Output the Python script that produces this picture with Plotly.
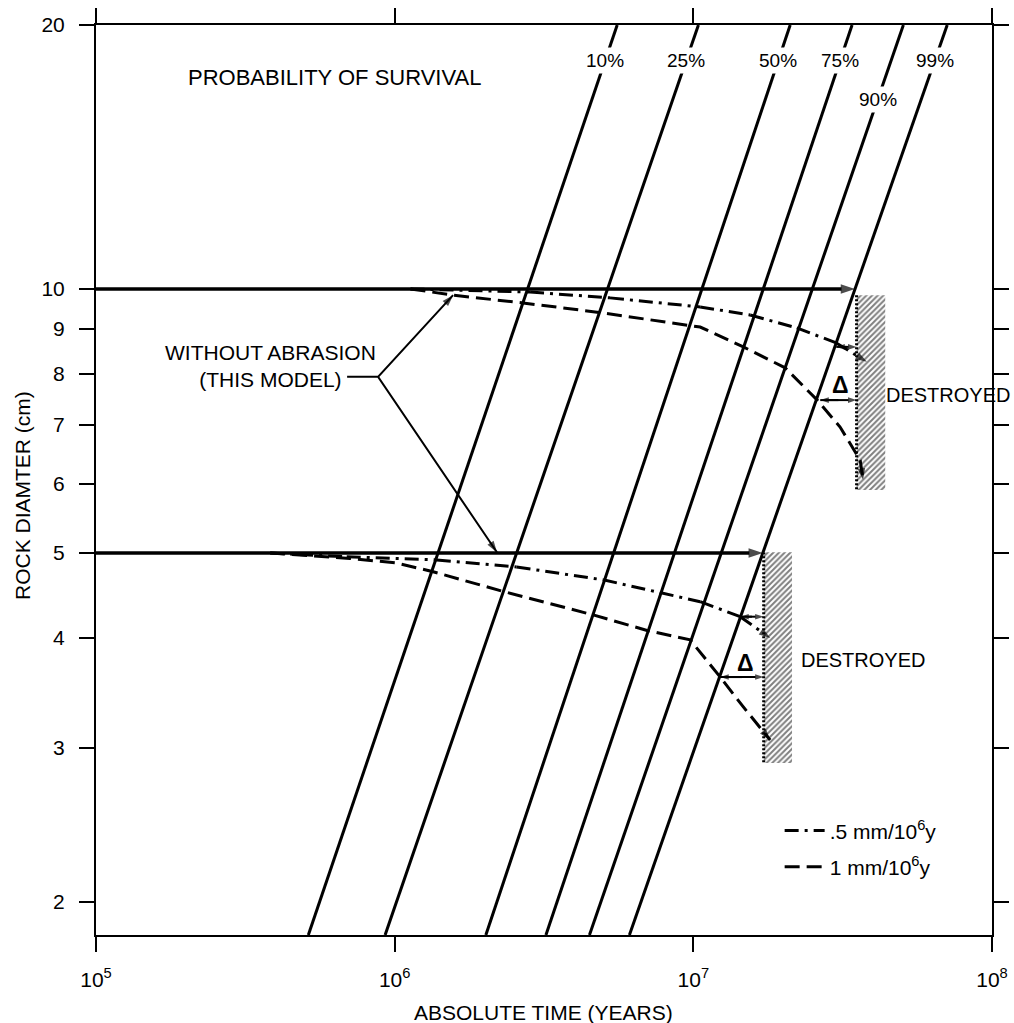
import numpy as np
import plotly.graph_objects as go

FONT = "Liberation Sans, Arial, sans-serif"

# ---------------- data ----------------
time_range = [1e5, 1e8]
diam_range = [1.834, 20]
x_tick_values = [1e5, 1e6, 1e7, 1e8]
x_tick_labels = ["10<sup>5</sup>", "10<sup>6</sup>", "10<sup>7</sup>", "10<sup>8</sup>"]
y_tick_values = [2, 3, 4, 5, 6, 7, 8, 9, 10, 20]
y_tick_labels = ["2", "3", "4", "5", "6", "7", "8", "9", "10", "20"]

# probability-of-survival lines (straight on log-log), time at the two diameter ends
survival_labels = ["10%", "25%", "50%", "75%", "90%", "99%"]
survival_diam_ends = [1.834, 20]
survival_time_low = [5.14e5, 9.29e5, 2.02e6, 3.21e6, 4.49e6, 6.11e6]
survival_time_high = [5.56e6, 1.04e7, 2.11e7, 3.40e7, 5.05e7, 7.08e7]
survival_label_diam = [18.24, 18.24, 18.24, 18.24, 16.43, 18.24]

# without abrasion (this model)
initial_diam = [10, 5]
no_abrasion_start_time = 1e5

# abrasion 0.5 mm/1e6 y (dash-dot)
upper_half_time = [1.13e6, 2.84e6, 5.26e6, 1.054e7, 1.55e7, 2.22e7, 3.01e7, 3.81e7]
upper_half_diam = [10.0, 9.92, 9.77, 9.54, 9.34, 9.03, 8.68, 8.26]
lower_half_time = [3.83e5, 6.91e5, 1.384e6, 2.56e6, 4.99e6, 7.74e6, 1.054e7, 1.435e7, 1.808e7]
lower_half_diam = [5.00, 4.95, 4.91, 4.82, 4.66, 4.51, 4.40, 4.23, 4.00]

# abrasion 1 mm/1e6 y (dashed)
upper_one_time = [1.13e6, 1.57e6, 2.69e6, 4.76e6, 1.054e7, 1.47e7, 2.03e7, 2.60e7, 3.10e7, 3.62e7, 3.70e7]
upper_one_diam = [10.0, 9.84, 9.64, 9.41, 9.05, 8.59, 8.13, 7.47, 6.96, 6.38, 6.06]
lower_one_time = [3.83e5, 7.09e5, 1.016e6, 1.345e6, 2.31e6, 4.62e6, 7.00e6, 9.76e6, 1.23e7, 1.468e7, 1.808e7]
lower_one_diam = [5.00, 4.93, 4.87, 4.76, 4.52, 4.25, 4.08, 3.98, 3.61, 3.34, 3.06]

# destroyed zones
destroyed_time_left = [3.52e7, 1.72e7]
destroyed_time_right = [4.39e7, 2.14e7]
destroyed_diam_top = [9.84, 5.01]
destroyed_diam_bottom = [5.90, 2.88]

# delta arrows (from 99% line to destroyed boundary)
delta_diam = [7.47, 3.61]
delta_time_left = [2.66e7, 1.23e7]
small_delta_diam = [8.59, 4.23]
small_delta_time_left = [3.01e7, 1.435e7]
delta_label_time = [3.10e7, 1.49e7]
delta_label_diam = [7.77, 3.75]

# label positions (data coords)
destroyed_label_time = [7.13e7, 3.70e7]
destroyed_label_diam = [7.57, 3.78]
note_time, note_diam = 3.85e5, 8.17
pointer_joint = (8.80e5, 7.94)
pointer_stub_time = 6.93e5
pointer_tips = [(1.569e6, 9.84), (2.20e6, 5.01)]

L = np.log10


def time_on_line(i, d):
    lt0, lt1 = L(survival_time_low[i]), L(survival_time_high[i])
    ld0, ld1 = L(survival_diam_ends[0]), L(survival_diam_ends[1])
    return 10 ** (lt0 + (L(d) - ld0) / (ld1 - ld0) * (lt1 - lt0))


fig = go.Figure()
NOHOVER = dict(hoverinfo="skip", showlegend=False)


def arrow_trace(xs, ys, head_flags, width=2, size=11, dash="solid"):
    fig.add_trace(go.Scatter(
        x=xs, y=ys, mode="lines+markers", line=dict(color="black", width=width, dash=dash),
        marker=dict(symbol=["arrow" if h else "circle" for h in head_flags],
                    size=[size if h else 0 for h in head_flags], color="black",
                    angleref="previous", line=dict(width=0)),
        **NOHOVER))


# survival lines
for i in range(len(survival_labels)):
    fig.add_trace(go.Scatter(x=[survival_time_low[i], survival_time_high[i]], y=survival_diam_ends,
                             mode="lines", line=dict(color="black", width=3), **NOHOVER))

# destroyed hatched zones
for k in range(2):
    tl, tr = destroyed_time_left[k], destroyed_time_right[k]
    dt, db = destroyed_diam_top[k], destroyed_diam_bottom[k]
    fig.add_trace(go.Scatter(x=[tl, tr, tr, tl, tl], y=[dt, dt, db, db, dt], mode="lines",
                             fill="toself", fillcolor="rgba(0,0,0,0)",
                             fillpattern=dict(shape="/", fgcolor="black", bgcolor="white", size=4, solidity=0.5),
                             line=dict(width=0, color="rgba(0,0,0,0)"), **NOHOVER))
    fig.add_trace(go.Scatter(x=[tl, tl], y=[dt, db], mode="lines",
                             line=dict(color="black", width=3, dash="2px,2px"), **NOHOVER))

# no-abrasion arrows
for d in initial_diam:
    arrow_trace([no_abrasion_start_time, time_on_line(5, d)], [d, d], [False, True], width=3.5, size=15)

DASHDOT = "14px,6px,3px,6px"
DASH = "15px,7px"
curves = [(upper_half_time, upper_half_diam, DASHDOT), (lower_half_time, lower_half_diam, DASHDOT),
          (upper_one_time, upper_one_diam, DASH), (lower_one_time, lower_one_diam, DASH)]
for t, d, dash in curves:
    n = len(t)
    arrow_trace(t, d, [False] * (n - 1) + [True], width=3, size=12, dash=dash)

# delta double arrows (mid -> left -> mid -> right)
for k in range(2):
    right = destroyed_time_left[k]
    for dd, tleft in ((delta_diam[k], delta_time_left[k]), (small_delta_diam[k], small_delta_time_left[k])):
        mid = np.sqrt(tleft * right)
        arrow_trace([mid, tleft, mid, right], [dd] * 4, [False, True, False, True], width=2, size=9)

# pointer lines for the note
arrow_trace([pointer_stub_time, pointer_joint[0], pointer_tips[0][0], pointer_joint[0], pointer_tips[1][0]],
            [pointer_joint[1], pointer_joint[1], pointer_tips[0][1], pointer_joint[1], pointer_tips[1][1]],
            [False, False, True, False, True], width=2, size=12)

# legend entries
fig.add_trace(go.Scatter(x=[None], y=[None], mode="lines", line=dict(color="black", width=3, dash=DASHDOT),
                         name=".5 mm/10<sup>6</sup>y", legendgroup="a"))
fig.add_trace(go.Scatter(x=[None], y=[None], mode="lines", line=dict(color="black", width=3, dash=DASH),
                         name="1 mm/10<sup>6</sup>y", legendgroup="b"))

ann = []
C = dict(xanchor="center", yanchor="middle", showarrow=False)
for i, lab in enumerate(survival_labels):
    d = survival_label_diam[i]
    ann.append(dict(x=L(time_on_line(i, d)), y=L(d), xref="x", yref="y", text=lab,
                    bgcolor="white", borderpad=2, font=dict(size=19), **C))
for k in range(2):
    ann.append(dict(x=L(delta_label_time[k]), y=L(delta_label_diam[k]), xref="x", yref="y", text="<b>Δ</b>",
                    font=dict(size=23), **C))
    ann.append(dict(x=L(destroyed_label_time[k]), y=L(destroyed_label_diam[k]), xref="x", yref="y",
                    text="DESTROYED", font=dict(size=20), **C))
ann.append(dict(x=L(note_time), y=L(note_diam), xref="x", yref="y",
                text="WITHOUT ABRASION<br>(THIS MODEL)", align="center", font=dict(size=21), **C))
ann.append(dict(x=0.2667, y=0.9418, xref="paper", yref="paper", text="PROBABILITY OF SURVIVAL",
                font=dict(size=22), **C))
ann.append(dict(x=-0.0826, y=0.4835, xref="paper", yref="paper", text="ROCK DIAMTER (cm)", textangle=-90,
                font=dict(size=21), **C))
ann.append(dict(x=0.4989, y=-0.0857, xref="paper", yref="paper", text="ABSOLUTE TIME (YEARS)",
                font=dict(size=21), **C))

axis_common = dict(showline=True, linecolor="black", linewidth=2, mirror="ticks", ticks="outside",
                   ticklen=15, tickwidth=2, tickcolor="black", showgrid=False, zeroline=False,
                   automargin=False, ticklabelstandoff=10, tickfont=dict(size=21, color="black"))

fig.update_layout(
    width=1014, height=1023,
    margin=dict(l=96, r=22, t=25, b=88, autoexpand=False),
    paper_bgcolor="white", plot_bgcolor="white",
    font=dict(family=FONT, color="black", size=20),
    xaxis=dict(type="log", range=[L(time_range[0]), L(time_range[1])], tickvals=x_tick_values,
               ticktext=x_tick_labels, **axis_common),
    yaxis=dict(type="log", range=[L(diam_range[0]), L(diam_range[1])], tickvals=y_tick_values,
               ticktext=y_tick_labels, **axis_common),
    annotations=ann,
    showlegend=True,
    legend=dict(x=0.763, y=0.137, xanchor="left", yanchor="top", bgcolor="rgba(0,0,0,0)",
                font=dict(size=21), itemwidth=40, tracegroupgap=6, traceorder="grouped"),
)

# remove the default page margin so the figure fills the window exactly
fig.write_html("out.html", config={"displayModeBar": False},
               post_script="document.body.style.margin='0px';document.body.style.overflow='hidden';")
